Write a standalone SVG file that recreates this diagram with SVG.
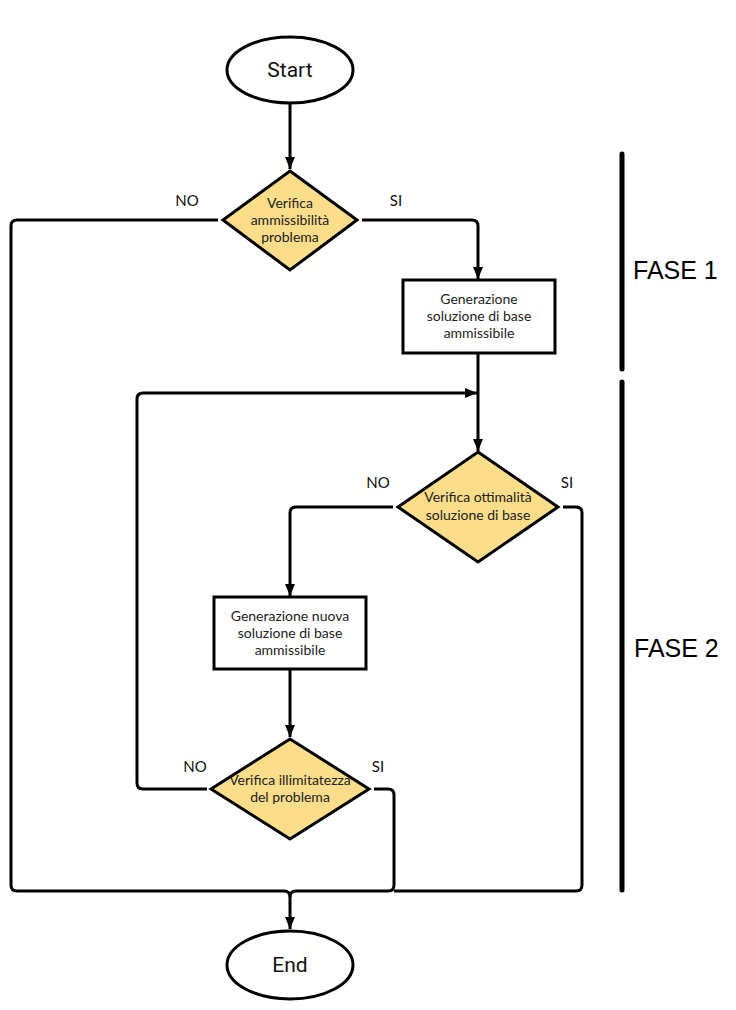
<svg xmlns="http://www.w3.org/2000/svg" width="736" height="1010" viewBox="0 0 736 1010">
<style>
.shape{stroke:#000;stroke-width:3;fill:#fff}
.dia{stroke:#000;stroke-width:3;fill:#FCDD8A;stroke-linejoin:miter}
.conn{stroke:#000;stroke-width:3;fill:none}
.t{font-family:Lato,"Open Sans",sans-serif;font-size:14px;fill:#222;text-anchor:middle}
.term{font-family:Roboto,"Liberation Sans",sans-serif;font-size:21px;fill:#111;text-anchor:middle}
.lbl{font-family:Lato,"Open Sans",sans-serif;font-size:15px;fill:#111;text-anchor:middle}
.fase{font-family:"Liberation Sans",Arial,sans-serif;font-size:25px;fill:#000}
.bar{stroke:#000;stroke-width:5;stroke-linecap:round}
</style>
<defs>
<marker id="arr" markerUnits="userSpaceOnUse" markerWidth="12" markerHeight="12" viewBox="0 0 12 12" refX="12" refY="6" orient="auto">
<path d="M0,1 L12,6 L0,11 Z" fill="#000"/>
</marker>
</defs>
<rect width="736" height="1010" fill="#fff"/>
<g id="connectors">
<path class="conn" d="M290,104 L290,169" marker-end="url(#arr)"/>
<path class="conn" d="M218,220 L17,220 Q11,220 11,226 L11,885 Q11,891 17,891 L284,891 Q290,891 290,897 L290,929" marker-end="url(#arr)"/>
<path class="conn" d="M362,220 L472,220 Q478,220 478,226 L478,279" marker-end="url(#arr)"/>
<path class="conn" d="M478,353 L478,451" marker-end="url(#arr)"/>
<path class="conn" d="M207,789 L143,789 Q137,789 137,783 L137,399 Q137,393 143,393 L477,393" marker-end="url(#arr)"/>
<path class="conn" d="M393,507 L296,507 Q290,507 290,513 L290,596" marker-end="url(#arr)"/>
<path class="conn" d="M290,669 L290,737" marker-end="url(#arr)"/>
<path class="conn" d="M563,507 L576,507 Q582,507 582,513 L582,885 Q582,891 576,891 L394,891"/>
<path class="conn" d="M374,789 L388,789 Q394,789 394,795 L394,885 Q394,891 388,891 L296,891 Q290,891 290,897"/>
</g>
<g id="start">
<ellipse class="shape" cx="290" cy="70" rx="63" ry="33"/>
<text class="term" x="290" y="77">Start</text>
</g>
<g id="d1">
<polygon class="dia" points="290,171 357,220 290,270 223,220"/>
<text class="t" x="290" y="208">Verifica</text>
<text class="t" x="290" y="225">ammissibilità</text>
<text class="t" x="290" y="242">problema</text>
</g>
<g id="d1labels">
<text class="lbl" x="187" y="206">NO</text>
<text class="lbl" x="396" y="206">SI</text>
</g>
<g id="box1">
<rect class="shape" x="403" y="280" width="152" height="73"/>
<text class="t" x="479" y="304">Generazione</text>
<text class="t" x="479" y="321">soluzione di base</text>
<text class="t" x="479" y="338">ammissibile</text>
</g>
<g id="d2">
<polygon class="dia" points="478,452 558,507 478,562 398,507"/>
<text class="t" x="478" y="502">Verifica ottimalità</text>
<text class="t" x="478" y="520">soluzione di base</text>
</g>
<g id="d2labels">
<text class="lbl" x="378" y="488">NO</text>
<text class="lbl" x="567" y="488">SI</text>
</g>
<g id="box2">
<rect class="shape" x="214" y="597" width="152" height="72"/>
<text class="t" x="290" y="621">Generazione nuova</text>
<text class="t" x="290" y="638">soluzione di base</text>
<text class="t" x="290" y="655">ammissibile</text>
</g>
<g id="d3">
<polygon class="dia" points="290,739 369,789 290,839 211,789"/>
<text class="t" x="290" y="785">Verifica illimitatezza</text>
<text class="t" x="290" y="802">del problema</text>
</g>
<g id="d3labels">
<text class="lbl" x="195" y="772">NO</text>
<text class="lbl" x="378" y="772">SI</text>
</g>
<g id="end">
<ellipse class="shape" cx="290" cy="965" rx="63" ry="34"/>
<text class="term" x="290" y="972">End</text>
</g>
<g id="phases">
<line class="bar" x1="622" y1="154" x2="622" y2="369"/>
<line class="bar" x1="622" y1="382" x2="622" y2="890"/>
<text class="fase" x="633" y="279">FASE 1</text>
<text class="fase" x="634" y="657">FASE 2</text>
</g>
</svg>
